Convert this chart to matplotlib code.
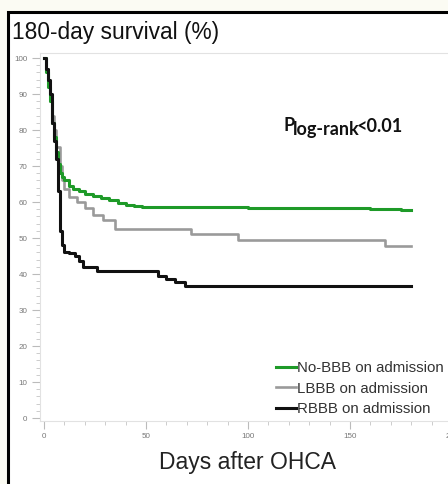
import matplotlib
matplotlib.use("Agg")
import matplotlib.pyplot as plt
from matplotlib.patches import Rectangle
from matplotlib.ticker import MultipleLocator

plt.rcParams["font.family"] = ["Liberation Sans", "DejaVu Sans"]

# -----------------------------
# Data
# -----------------------------
nobbb_days = [0, 1, 2, 3, 4, 5, 6, 7, 8, 9, 10, 12, 14, 17, 20, 24, 28, 32, 36, 40, 44, 48, 76, 100, 160, 175, 180]
nobbb_surv = [100, 96, 92, 88, 82, 78, 74, 70.5, 68, 67, 66, 64.5, 63.5, 63, 62.3, 61.8, 61, 60.5, 59.8, 59.3, 58.9, 58.6, 58.5, 58.3, 58.1, 57.8, 57.8]

lbbb_days = [0, 1, 2, 3, 4, 5, 6, 8, 9, 10, 12, 16, 20, 24, 29, 35, 72, 95, 167, 180]
lbbb_surv = [100, 97, 93, 88, 84, 80, 75.3, 70, 66, 63.5, 61.4, 60, 58.3, 56.4, 55, 52.5, 51.2, 49.5, 47.8, 47.8]

rbbb_days = [0, 1, 2, 3, 4, 5, 6, 7, 8, 9, 10, 12, 15, 17, 19, 26, 56, 60, 64, 69, 180]
rbbb_surv = [100, 97, 94, 90, 82, 77, 72, 63, 52, 48, 46, 45.8, 45, 43.5, 42, 40.8, 39.5, 38.5, 37.8, 36.8, 36.8]

labels = ["No-BBB on admission", "LBBB on admission", "RBBB on admission"]
colors = ["#1e9a28", "#9a9a9a", "#111111"]

W, H = 448, 484
fig = plt.figure(figsize=(W / 100, H / 100), dpi=100, facecolor="#fbfbf3")

# white panel with black frame
fig.patches.append(Rectangle((8 / W, -0.1), 1.2, 1 - 12 / H + 0.1, transform=fig.transFigure,
                             facecolor="white", edgecolor="black", linewidth=2.2, zorder=0))

# axes (extends past right edge like the original)
ax = fig.add_axes([40 / W, (H - 421) / H, (470 - 40) / W, (421 - 53) / H])
ax.set_zorder(2)
ax.set_facecolor("white")
ax.set_xlim(-2, 208.8)
ax.set_ylim(-0.83, 101.4)

ax.step(nobbb_days, nobbb_surv, where="post", color=colors[0], lw=2.2, label=labels[0], zorder=3)
ax.step(lbbb_days, lbbb_surv, where="post", color=colors[1], lw=1.9, label=labels[1], zorder=2)
ax.step(rbbb_days, rbbb_surv, where="post", color=colors[2], lw=2.2, label=labels[2], zorder=4)

for s in ["left", "bottom", "top"]:
    ax.spines[s].set_color("#e2e2e2")
    ax.spines[s].set_linewidth(0.8)
ax.spines["right"].set_visible(False)

ax.xaxis.set_major_locator(MultipleLocator(50))
ax.xaxis.set_minor_locator(MultipleLocator(10))
ax.yaxis.set_major_locator(MultipleLocator(10))
ax.yaxis.set_minor_locator(MultipleLocator(2))
ax.tick_params(which="major", length=6, width=0.8, color="#bbbbbb", labelsize=5.8,
               labelcolor="#777777", pad=3)
ax.tick_params(which="minor", length=3, width=0.7, color="#cccccc")
ax.tick_params(top=False, right=False, which="both")

leg = ax.legend(loc="lower right", bbox_to_anchor=(444 / W, (H - 416) / H),
                bbox_transform=fig.transFigure, frameon=False, fontsize=10.8,
                handlelength=1.35, handletextpad=0.1, labelspacing=0.42,
                borderpad=0, borderaxespad=0)
for t in leg.get_texts():
    t.set_color("#333333")

# p-value annotation
fig.text(283 / W, (H - 131) / H, "P", fontsize=13, fontweight="bold", family="Lato", color="#111111")
fig.text(293 / W, (H - 135) / H, "log-rank", fontsize=13, fontweight="bold", family="Lato", color="#111111")
fig.text(357 / W, (H - 132) / H, "<0.01", fontsize=13, fontweight="bold", family="Lato", color="#111111")

fig.text(12 / W, (H - 33) / H, "180-day survival (%)", fontsize=16.4, va="center", color="#111111")
fig.text(247 / W, (H - 463) / H, "Days after OHCA", fontsize=16.5, va="center", ha="center", color="#222222")

fig.savefig("out.png", dpi=100, facecolor=fig.get_facecolor())
